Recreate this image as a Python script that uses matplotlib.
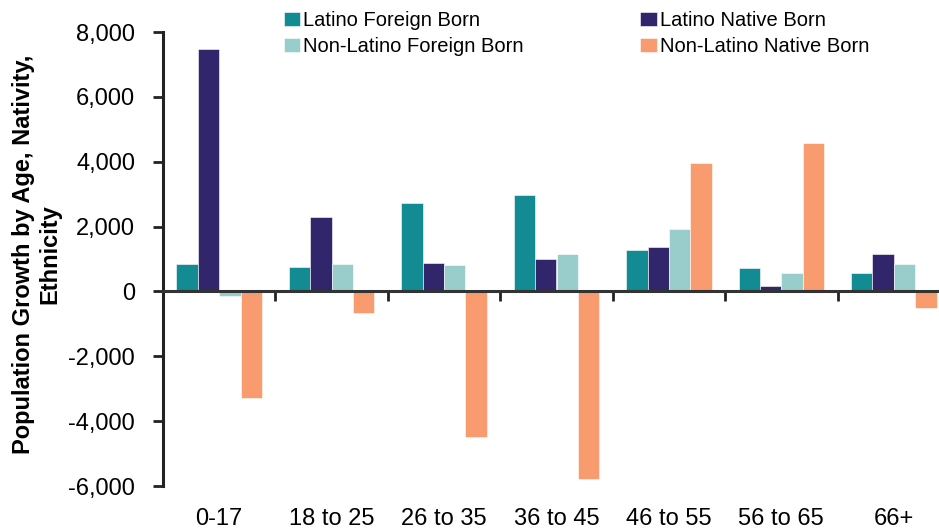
import matplotlib.pyplot as plt
import matplotlib.transforms as mtransforms
import numpy as np
from matplotlib.ticker import FuncFormatter

plt.rcParams['font.family'] = ['Liberation Sans', 'DejaVu Sans']

# age groups and series values
ages = ['0-17', '18 to 25', '26 to 35', '36 to 45', '46 to 55', '56 to 65', '66+']
latino_fb = [850, 740, 2730, 2970, 1290, 730, 560]
latino_nb = [7480, 2280, 890, 1010, 1370, 160, 1140]
nonlatino_fb = [-150, 860, 800, 1160, 1940, 560, 860]
nonlatino_nb = [-3280, -680, -4490, -5770, 3975, 4580, -500]

series = [
    ('Latino Foreign Born', latino_fb, '#138b93'),
    ('Latino Native Born', latino_nb, '#31256b'),
    ('Non-Latino Foreign Born', nonlatino_fb, '#98cdcb'),
    ('Non-Latino Native Born', nonlatino_nb, '#f89b6e'),
]

fig = plt.figure(figsize=(9.39, 5.29), dpi=100)
ax = fig.add_axes([163 / 939, 1 - 486 / 529, 787 / 939, 454 / 529])

x = np.arange(len(ages))
w = 0.19
bars = {}
for i, (name, vals, col) in enumerate(series):
    bars[name] = ax.bar(x + (i - 1.5) * w, vals, w, color=col, label=name,
                        edgecolor='white', linewidth=0.4)

ax.set_xlim(-0.5, len(ages) - 0.5)
ax.set_ylim(-6000, 8000)
ax.set_yticks(np.arange(-6000, 8001, 2000))
ax.yaxis.set_major_formatter(FuncFormatter(lambda v, p: f'{int(v):,}'))
ax.tick_params(axis='y', labelsize=17, width=2, length=7, pad=13,
               direction='out', color='#222222')

for s in ['top', 'right']:
    ax.spines[s].set_visible(False)
ax.spines['left'].set_linewidth(2.2)
ax.spines['left'].set_color('#222222')
ax.spines['bottom'].set_position(('data', 0))
ax.spines['bottom'].set_linewidth(2.2)
ax.spines['bottom'].set_color('#333333')
ax.set_xticks(np.arange(0.5, len(ages) - 0.5, 1.0))
ax.set_xticklabels([])
ax.tick_params(axis='x', width=2, length=7, direction='out', color='#222222')

# category labels sit at the bottom edge of the figure
trans = mtransforms.blended_transform_factory(ax.transData, ax.transAxes)
for xi, lab in zip(x, ages):
    ax.text(xi, -0.085, lab, transform=trans, ha='center', va='baseline', fontsize=17)

ax.set_ylabel('Population Growth by Age, Nativity,\nEthnicity', fontsize=17,
              fontweight='bold')
ax.yaxis.set_label_coords(-0.129, 0.511)

handles = [bars[n] for n, _, _ in series]
order = [0, 2, 1, 3]
leg = fig.legend([handles[k] for k in order], [series[k][0] for k in order],
                 ncol=2, loc='upper left', bbox_to_anchor=(276 / 939, 1 - 3 / 529),
                 frameon=False, fontsize=14.5, handlelength=0.8, handleheight=0.7,
                 handletextpad=0.15, columnspacing=5.8, labelspacing=0.35,
                 borderaxespad=0.0)

fig.savefig('out.png', dpi=100)
